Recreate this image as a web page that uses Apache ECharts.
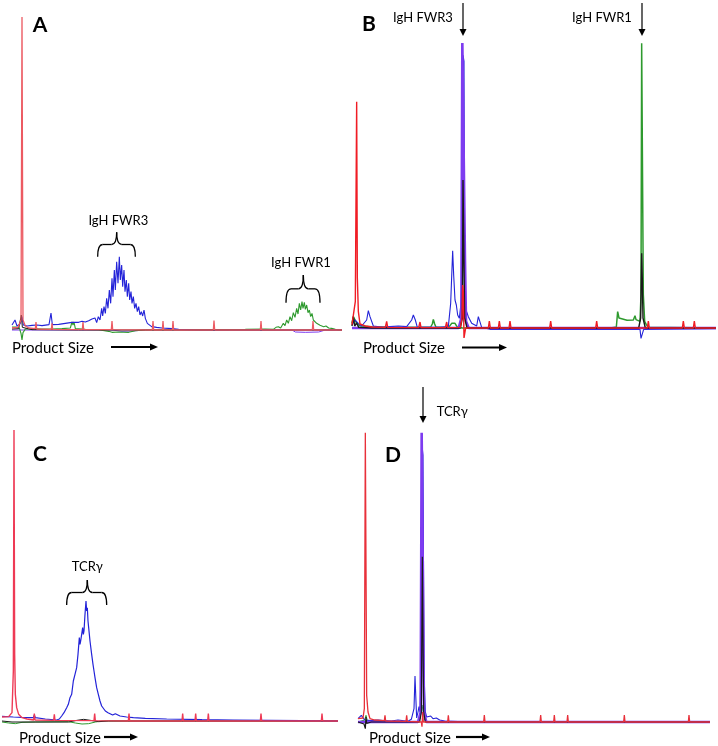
<!DOCTYPE html>
<html><head><meta charset="utf-8">
<script src="https://cdn.jsdelivr.net/npm/echarts/dist/echarts.min.js"></script>
<style>html,body{margin:0;padding:0;background:#fff}#c{width:718px;height:746px}</style>
</head><body><div id="c"></div>
<script>
// ---------- DATA: [size (scan units), signal (RFU)] ----------
// Panel A
const aRed = [[0,60],[18,80],[27,300],[30,9390],[33,300],[40,120],[50,60],[70,40],[72,240],[74,30],[118,20],[120,200],[122,20],[211,10],[213,240],[215,10],[298,10],[300,270],[302,10],[421,0],[423,270],[425,0],[451,0],[453,270],[455,0],[481,0],[483,270],[485,0],[604,0],[606,280],[608,0],[745,0],[747,270],[749,0],[901,0],[903,270],[905,0],[990,0]];
const aBlue = [[0,150],[9,300],[15,120],[24,180],[30,400],[34,150],[45,120],[60,140],[75,150],[90,130],[111,160],[117,510],[121,160],[140,170],[160,200],[180,230],[200,230],[210,260],[220,240],[230,280],[240,330],[249,360],[254,220],[259,400],[264,300],[269,650],[272,420],[276,700],[280,500],[284,950],[288,650],[292,1200],[296,800],[300,1550],[303,1000],[307,1800],[310,1200],[314,2050],[318,1400],[322,2200],[325,1500],[329,1950],[332,1300],[336,1800],[339,1150],[343,1500],[346,1000],[350,1400],[353,900],[357,1150],[360,800],[364,1000],[368,650],[372,800],[376,550],[380,700],[384,450],[388,550],[392,420],[396,600],[400,350],[406,200],[419,100],[434,80],[450,60],[480,40],[500,20],[560,0],[990,0]];
const aGreen = [[0,90],[12,90],[22,60],[27,-100],[30,-300],[33,-80],[40,30],[60,40],[90,30],[120,30],[150,40],[175,60],[180,240],[183,150],[186,240],[190,40],[220,20],[260,10],[290,-40],[300,-70],[320,-60],[350,-70],[370,-20],[400,0],[500,10],[600,10],[700,20],[760,30],[784,20],[792,80],[799,100],[806,60],[814,200],[819,130],[824,300],[829,200],[834,400],[839,280],[844,520],[849,380],[854,650],[858,480],[862,800],[866,600],[870,850],[873,650],[877,830],[880,620],[884,750],[888,520],[892,600],[896,400],[900,500],[904,300],[909,350],[914,200],[919,250],[924,140],[929,180],[935,100],[942,120],[950,60],[959,50],[970,20],[979,0],[990,0]];
const aBlack = [[0,30],[20,40],[25,100],[28,450],[31,80],[36,20],[60,10],[200,0],[400,0],[990,0]];
const aPurple = [[0,0],[300,0],[330,-40],[360,-30],[400,0],[840,0],[850,-60],[880,-70],[920,-60],[940,0],[990,0]];

// Panel B
const bRed = [[0,100],[6,150],[10,800],[14,6790],[16,1500],[19,500],[24,120],[40,60],[60,30],[100,20],[104,200],[107,20],[200,10],[204,180],[207,10],[280,10],[284,180],[287,10],[325,20],[330,300],[332,1290],[334,1100],[336,-300],[339,-300],[341,0],[409,0],[412,210],[415,0],[439,0],[442,210],[445,0],[471,0],[474,210],[477,0],[593,0],[596,210],[599,0],[731,0],[734,210],[737,0],[886,0],[889,210],[892,0],[991,0],[994,210],[997,0],[1024,0],[1027,210],[1030,0],[1092,0]];
const bBlue = [[0,90],[9,240],[19,140],[29,60],[44,240],[49,520],[54,340],[59,290],[64,60],[94,20],[114,40],[139,60],[164,40],[179,240],[184,390],[190,240],[196,20],[234,20],[264,20],[289,40],[296,740],[302,2320],[305,1590],[309,840],[313,690],[317,390],[322,290],[327,740],[330,1500],[333,8190],[336,8000],[338,1200],[342,540],[349,340],[359,140],[374,60],[379,340],[384,340],[389,20],[414,-40],[864,-40],[867,-310],[871,-310],[875,-40],[1092,-20]];
const bPurple = [[0,0],[320,0],[328,300],[331,8550],[336,8550],[339,2000],[342,200],[350,0],[1092,0]];
const bBlack = [[0,60],[4,340],[8,60],[14,150],[20,20],[60,0],[325,0],[331,300],[333,4440],[336,4440],[338,300],[345,0],[860,0],[866,300],[869,2240],[871,1440],[873,300],[880,0],[1092,0]];
const bGreen = [[0,150],[4,340],[14,140],[24,60],[60,40],[120,30],[200,20],[236,30],[241,120],[244,260],[248,120],[252,20],[290,20],[299,140],[309,140],[315,40],[330,0],[400,0],[600,0],[780,10],[793,30],[797,490],[801,300],[806,240],[825,230],[844,240],[847,300],[849,370],[852,250],[856,200],[864,200],[867,1000],[869,8540],[872,8540],[874,1000],[878,200],[883,100],[890,20],[1092,0]];

// Panel C
const cRed = [[0,120],[20,130],[30,250],[34,1500],[36,8730],[38,2000],[40,800],[44,400],[50,200],[60,100],[75,60],[95,30],[97,220],[99,30],[155,20],[157,200],[159,20],[276,10],[278,220],[280,10],[379,0],[381,220],[383,0],[540,0],[542,220],[544,0],[579,0],[581,220],[583,0],[617,0],[619,220],[621,0],[775,0],[777,220],[779,0],[958,0],[960,220],[962,0],[1008,0]];
const cBlue = [[0,140],[34,120],[60,110],[94,100],[97,180],[100,100],[130,60],[164,30],[172,60],[179,150],[186,250],[194,400],[199,500],[204,700],[209,800],[212,750],[214,1200],[219,1400],[224,1600],[228,2000],[232,2500],[234,2300],[236,2400],[239,2600],[242,2800],[244,2600],[246,2700],[249,3200],[252,3600],[254,3300],[256,3400],[258,3000],[260,2800],[264,2400],[269,2000],[273,1700],[276,1500],[279,1300],[284,1000],[289,800],[294,600],[299,450],[304,400],[310,300],[318,250],[324,200],[332,180],[340,220],[346,170],[354,150],[374,120],[394,100],[430,80],[494,60],[600,40],[694,30],[800,20],[900,10],[1008,0]];
const cGreen = [[0,-30],[20,-60],[40,-80],[60,-40],[100,-30],[200,-20],[220,-60],[240,-90],[260,-80],[280,-30],[300,0],[1008,0]];
const cBlack = [[0,0],[30,-30],[60,-30],[200,-30],[225,20],[245,50],[265,20],[290,-20],[320,0],[1008,0]];

// Panel D
const dRed = [[0,100],[15,120],[19,400],[22,8680],[24,8680],[26,800],[30,300],[36,100],[50,60],[79,40],[81,200],[83,30],[144,20],[146,200],[148,20],[190,0],[192,-140],[194,300],[196,0],[269,0],[271,200],[273,0],[377,0],[379,210],[381,0],[546,0],[548,210],[550,0],[587,0],[589,210],[591,0],[627,0],[629,210],[631,0],[797,0],[799,210],[801,0],[991,0],[993,210],[995,0],[1056,0]];
const dPurple = [[0,0],[180,0],[188,300],[191,8680],[195,8680],[198,300],[205,0],[1056,0]];
const dBlue = [[0,100],[10,200],[20,60],[40,40],[60,60],[75,40],[100,30],[120,60],[125,40],[150,20],[160,80],[165,30],[168,400],[171,1380],[174,600],[176,120],[180,300],[183,460],[186,300],[190,2000],[192,8300],[195,8000],[198,1500],[202,300],[206,150],[212,100],[218,180],[225,100],[235,120],[245,60],[260,30],[300,10],[1056,0]];
const dBlack = [[0,0],[18,-60],[22,-200],[24,150],[26,-40],[40,0],[185,0],[190,300],[193,4960],[195,4960],[197,300],[202,0],[1056,0]];
const dGreen = [[0,0],[20,60],[24,200],[28,40],[100,0],[180,0],[186,100],[192,510],[196,500],[200,60],[210,0],[1056,0]];

const panelLetters = ['A','B','C','D'];
const xLabel = 'Product Size';

// ---------- CHART ----------
const RED='#e8303a', BLUE='#2323d8', GREEN='#2e9a2e', BLACK='#1a1a1a', PURPLE='#7d3cf0';
const panels = [
  {grid:{left:12,top:10,width:330,height:340}, xmax:990,
   traces:[[aPurple,PURPLE,1],[aGreen,GREEN,1.1],[aBlue,BLUE,1.1],[aBlack,BLACK,1],[aRed,'#ec5a62',1.3]]},
  {grid:{left:352,top:8,width:364,height:340}, xmax:1092,
   traces:[[bGreen,GREEN,1.5],[bBlue,BLUE,1.1],[bPurple,PURPLE,2.6],[bBlack,BLACK,1.4],[bRed,'#f01c24',1.4]]},
  {grid:{left:2,top:401,width:336,height:340}, xmax:1008,
   traces:[[cGreen,GREEN,1],[cBlack,BLACK,1],[cBlue,BLUE,1.2],[cRed,'#ee3a55',1.4]]},
  {grid:{left:358,top:402,width:352,height:340}, xmax:1056,
   traces:[[dGreen,GREEN,1],[dBlue,BLUE,1.1],[dPurple,PURPLE,2.6],[dBlack,BLACK,1.2],[dRed,RED,1.3]]}
];

const chart = echarts.init(document.getElementById('c'));
const series = [];
panels.forEach((p,i)=>{
  p.traces.forEach((t,k)=>{
    series.push({type:'line', xAxisIndex:i, yAxisIndex:i, data:t[0], showSymbol:false, symbol:'none',
      silent:true, z:2+k, lineStyle:{color:t[1], width:t[2]}});
  });
});
chart.setOption({
  animation:false,
  grid: panels.map(p=>p.grid),
  xAxis: panels.map((p,i)=>({type:'value', gridIndex:i, min:0, max:p.xmax, show:false})),
  yAxis: panels.map((p,i)=>({type:'value', gridIndex:i, min:-600, max:9600, show:false})),
  series
});

// ---------- ANNOTATIONS ----------
const G=[];
const FONT='Lato, "Noto Sans", sans-serif';
function P(g,x,y){return chart.convertToPixel({gridIndex:g},[x,y]);}
function txt(x,y,s,size,bold,align){
  G.push({type:'text',x,y,z:50,style:{text:s,font:(bold?'bold ':'')+size+'px '+FONT,fill:'#000',
    textAlign:align||'center',textVerticalAlign:'middle',align:align||'center',verticalAlign:'middle'}});
}
function seg(x1,y1,x2,y2,w){G.push({type:'line',z:50,shape:{x1,y1,x2,y2},style:{stroke:'#000',lineWidth:w||1.3}});}
function qc(x1,y1,cx,cy,x2,y2){G.push({type:'bezierCurve',z:50,shape:{x1,y1,x2,y2,cpx1:cx,cpy1:cy},style:{stroke:'#000',lineWidth:1.3,fill:null}});}
function vArrow(x,y1,y2){
  seg(x,y1,x,y2-5,1.2);
  G.push({type:'polygon',z:50,shape:{points:[[x-3.5,y2-7],[x+3.5,y2-7],[x,y2]]},style:{fill:'#000'}});
}
function hArrow(x1,x2,y){
  seg(x1,y,x2-6,y,2.2);
  G.push({type:'polygon',z:50,shape:{points:[[x2-8,y-3.5],[x2-8,y+3.5],[x2,y]]},style:{fill:'#000'}});
}
function brace(g,xl,xr,xt,yb,yt){
  const L=P(g,xl,yb),R=P(g,xr,yb),T=P(g,xt,yt);
  const ym=(L[1]+T[1])/2, r=5;
  qc(L[0],L[1],L[0],ym,L[0]+r,ym);
  seg(L[0]+r,ym,T[0]-r,ym);
  qc(T[0]-r,ym,T[0],ym,T[0],T[1]);
  qc(T[0],T[1],T[0],ym,T[0]+r,ym);
  seg(T[0]+r,ym,R[0]-r,ym);
  qc(R[0]-r,ym,R[0],ym,R[0],R[1]);
}
// Panel A
let q;
q=P(0,319,3270); txt(q[0],q[1],'IgH FWR3',13);
brace(0,257,370,314,2200,2930);
q=P(0,867,2030); txt(q[0],q[1],'IgH FWR1',13);
brace(0,822,924,874,820,1650);
// Panel B
q=P(1,213,9300); txt(q[0],q[1],'IgH FWR3',13);
let a=P(1,333,9750), b=P(1,333,8760); vArrow(a[0],a[1],b[1]);
q=P(1,750,9300); txt(q[0],q[1],'IgH FWR1',13);
a=P(1,870,9750); b=P(1,870,8760); vArrow(a[0],a[1],b[1]);
// Panel C
q=P(2,256,4630); txt(q[0],q[1],'TCRγ',13);
brace(2,194,314,256,3480,4230);
// Panel D
a=P(3,195,10050); b=P(3,195,8970); vArrow(a[0],a[1],b[1]);
q=P(3,236,9300); txt(q[0],q[1],'TCRγ',13,false,'left');

// Panel letters
txt(40,25.5,panelLetters[0],21,true);
txt(369,24.5,panelLetters[1],21,true);
txt(40,454.5,panelLetters[2],21,true);
txt(393,455,panelLetters[3],21,true);
// x labels with arrows
txt(12,348,xLabel,15,false,'left');  hArrow(111,158,347);
txt(363,348,xLabel,15,false,'left'); hArrow(462,507,347.5);
txt(19,738,xLabel,15,false,'left');  hArrow(104,138,737);
txt(369,738,xLabel,15,false,'left'); hArrow(456,490,737);

chart.setOption({graphic:{elements:G}});
</script></body></html>
